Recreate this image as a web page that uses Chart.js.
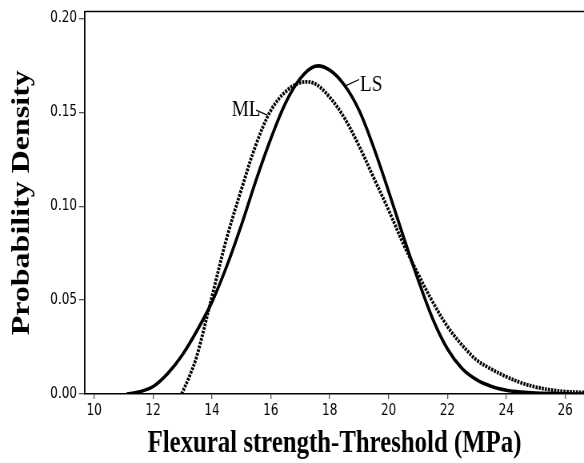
<!DOCTYPE html>
<html>
<head>
<meta charset="utf-8">
<script src="https://cdn.jsdelivr.net/npm/chart.js@4/dist/chart.umd.min.js"></script>
<style>
  html, body { margin: 0; padding: 0; background: #fff; overflow: hidden; }
  /* the original figure is squeezed horizontally, so draw wider and squeeze */
  #pdf { display: block; transform: scaleX(0.8); transform-origin: 0 0; }
</style>
</head>
<body>
<canvas id="pdf" width="730" height="463"></canvas>
<script>
// values
const lsX = [11.1, 11.5, 12, 12.5, 13, 13.5, 14, 14.5, 15, 15.5, 16, 16.5, 17, 17.5, 18, 18.5, 19, 19.5, 20, 20.5, 21, 21.5, 22, 22.5, 23, 23.5, 24, 24.5, 25, 26, 26.64];
const lsY = [0, 0.001, 0.004, 0.011, 0.021, 0.034, 0.049, 0.068, 0.090, 0.114, 0.136, 0.155, 0.168, 0.1745, 0.1725, 0.1645, 0.151, 0.131, 0.108, 0.084, 0.061, 0.040, 0.024, 0.0135, 0.0075, 0.004, 0.002, 0.001, 0.0005, 0.0001, 0.0];

const mlX = [12.97, 13.25, 13.5, 14, 14.5, 15, 15.5, 16, 16.5, 17, 17.5, 18, 18.5, 19, 19.5, 20, 20.5, 21, 21.5, 22, 22.5, 23, 23.5, 24, 24.5, 25, 25.5, 26, 26.64];
const mlY = [0, 0.010, 0.021, 0.052, 0.083, 0.109, 0.133, 0.151, 0.161, 0.1658, 0.1652, 0.158, 0.147, 0.132, 0.115, 0.098, 0.080, 0.064, 0.049, 0.036, 0.026, 0.018, 0.0132, 0.0092, 0.006, 0.0037, 0.0022, 0.0013, 0.0008];

const xTicks = [10, 12, 14, 16, 18, 20, 22, 24, 26];
const yTicks = [0, 0.05, 0.10, 0.15, 0.20];

const toPts = (xs, ys) => xs.map((x, i) => ({ x: x, y: ys[i] }));

const serif = '"Liberation Serif", "Times New Roman", serif';

// top frame line + curve names with their little leader lines
const notes = {
  id: 'notes',
  afterDatasetsDraw(chart) {
    const c = chart.ctx, sx = chart.scales.x, sy = chart.scales.y;
    const ca = chart.chartArea;
    c.save();
    c.strokeStyle = '#000';
    c.lineWidth = 1.6;
    c.beginPath();
    c.moveTo(ca.left, ca.top);
    c.lineTo(ca.right, ca.top);
    c.stroke();

    c.fillStyle = '#000';
    c.font = '24px ' + serif;
    c.textBaseline = 'middle';
    c.lineWidth = 1.2;
    // LS
    c.textAlign = 'left';
    c.fillText('LS', sx.getPixelForValue(19.03), sy.getPixelForValue(0.1645));
    c.beginPath();
    c.moveTo(sx.getPixelForValue(18.55), sy.getPixelForValue(0.1642));
    c.lineTo(sx.getPixelForValue(19.0), sy.getPixelForValue(0.1675));
    c.stroke();
    // ML
    c.textAlign = 'right';
    c.fillText('ML', sx.getPixelForValue(15.65), sy.getPixelForValue(0.1515));
    c.beginPath();
    c.moveTo(sx.getPixelForValue(15.5), sy.getPixelForValue(0.1512));
    c.lineTo(sx.getPixelForValue(15.88), sy.getPixelForValue(0.1485));
    c.stroke();
    c.restore();
  }
};

const tickFont = { family: '"DejaVu Sans", sans-serif', size: 15 };

new Chart(document.getElementById('pdf'), {
  type: 'scatter',
  data: {
    datasets: [
      {
        label: 'LS',
        data: toPts(lsX, lsY),
        showLine: true,
        borderColor: '#000',
        borderWidth: 3.6,
        pointRadius: 0,
        tension: 0.35
      },
      {
        label: 'ML',
        data: toPts(mlX, mlY),
        showLine: true,
        borderColor: '#000',
        borderWidth: 3.8,
        borderDash: [2.6, 1.3],
        pointRadius: 0,
        tension: 0.35
      }
    ]
  },
  options: {
    responsive: false,
    animation: false,
    layout: { padding: { top: 7, right: 0, left: 0, bottom: 0 } },
    plugins: { legend: { display: false }, tooltip: { enabled: false } },
    scales: {
      x: {
        type: 'linear',
        min: 9.685,
        max: 26.64,
        afterBuildTicks: s => { s.ticks = xTicks.map(v => ({ value: v })); },
        afterFit: s => { s.height = 69; },
        grid: { drawOnChartArea: false, drawTicks: true, tickLength: 5, color: '#555', lineWidth: 1.3 },
        border: { color: '#000', width: 1.6 },
        ticks: { color: '#000', font: tickFont, padding: 3, maxRotation: 0, callback: v => String(v) },
        title: {
          display: true,
          text: 'Flexural strength-Threshold (MPa)',
          color: '#000',
          font: { family: serif, size: 31, weight: 'bold' },
          padding: { top: 0, bottom: 0 }
        }
      },
      y: {
        type: 'linear',
        min: 0,
        max: 0.2037,
        afterBuildTicks: s => { s.ticks = yTicks.map(v => ({ value: v })); },
        afterFit: s => { s.width = 106.25; },
        grid: { drawOnChartArea: false, drawTicks: true, tickLength: 7.5, color: '#555', lineWidth: 1.3 },
        border: { color: '#000', width: 1.8 },
        ticks: { color: '#000', font: tickFont, padding: 2.5, callback: v => v.toFixed(2) },
        title: {
          display: true,
          text: 'Probability Density',
          color: '#000',
          font: { family: serif, size: 32, weight: 'bold' },
          padding: { top: 9, bottom: 0 }
        }
      }
    }
  },
  plugins: [notes]
});
</script>
</body>
</html>
